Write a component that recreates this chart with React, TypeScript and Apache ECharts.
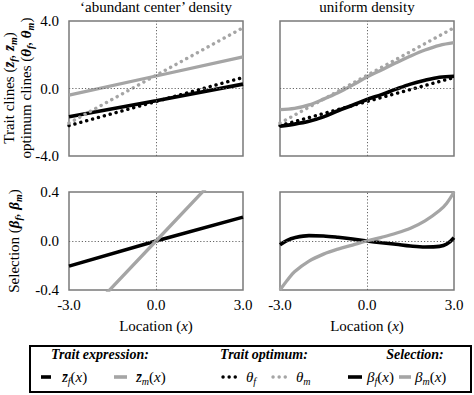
import React, { useEffect, useRef } from 'react';
import * as echarts from 'echarts';

// ---------- data ----------
const xLin = [-3, 0, 3];
const zfAbundant = [-1.67, -0.72, 0.26];
const zmAbundant = [-0.39, 0.74, 1.87];
const thetaF = [-2.2, -0.77, 0.65];
const thetaM = [-2.05, 0.78, 3.6];

const xCurve = [-3, -2.5, -2, -1.5, -1, -0.5, 0, 0.5, 1, 1.5, 2, 2.5, 3];
const zfUniform = [-2.23, -2.11, -1.94, -1.68, -1.32, -0.99, -0.65, -0.36, -0.04, 0.26, 0.49, 0.67, 0.73];
const zmUniform = [-1.25, -1.18, -0.97, -0.63, -0.25, 0.2, 0.68, 1.1, 1.52, 1.92, 2.28, 2.56, 2.72];

const betaFAbundant = [-0.205, 0, 0.195];
const betaMAbundant = [-0.75, 0, 0.75];

const xSel = [-3, -2.75, -2.5, -2, -1.5, -1, -0.5, 0, 0.5, 1, 1.5, 2, 2.5, 2.75, 3];
const betaFUniform = [-0.03, 0.006, 0.027, 0.044, 0.041, 0.03, 0.016, 0, -0.014, -0.027, -0.041, -0.049, -0.044, -0.025, 0.027];
const betaMUniform = [-0.4, -0.32, -0.251, -0.164, -0.107, -0.066, -0.033, 0, 0.03, 0.063, 0.104, 0.164, 0.249, 0.309, 0.4];

const xTicks = [-3, 0, 3];
const panelTitles = ['\u2018abundant center\u2019 density', 'uniform density'];

const FONT = 'Liberation Serif';
const BLACK = '#000000';
const GRAY = '#a5a5a5';

const pairs = (xs: number[], ys: number[]) => xs.map((x, i) => [x, ys[i]]);

const part = (style: string, weight: string, size: number, extra: any = {}) => ({
  fontFamily: FONT,
  fontStyle: style,
  fontWeight: weight,
  fontSize: size,
  fill: '#000',
  ...extra,
});

const richBase: any = {
  n: part('normal', 'normal', 15, { lineHeight: 18 }),
  i: part('italic', 'normal', 15, { lineHeight: 18 }),
  b: part('italic', 'bold', 15, { lineHeight: 18 }),
  h: part('italic', 'bold', 14, { lineHeight: 18 }),
  s: part('italic', 'bold', 10, { lineHeight: 10, verticalAlign: 'bottom' }),
  si: part('italic', 'normal', 10, { lineHeight: 10, verticalAlign: 'bottom' }),
};

export default function App() {
  const ref = useRef<HTMLDivElement>(null);
  useEffect(() => {
    if (!ref.current) return;
    const chart = echarts.init(ref.current, null, { renderer: 'svg' });

    const grids = [
      { left: 69, top: 21, width: 174, height: 135 },
      { left: 280, top: 21, width: 174, height: 135 },
      { left: 69, top: 192, width: 174, height: 98 },
      { left: 280, top: 192, width: 174, height: 98 },
    ].map((g) => ({ ...g, show: true, borderColor: '#7a7a7a', borderWidth: 1.5, backgroundColor: 'transparent' }));

    const fmt = (v: number) => (Math.abs(v) < 1e-9 ? 0 : v).toFixed(1);

    const xAxis = [0, 1, 2, 3].map((i) => ({
      gridIndex: i,
      type: 'value',
      min: xTicks[0],
      max: xTicks[2],
      interval: 3,
      axisLine: { show: false },
      axisTick: { show: false },
      splitLine: { show: false },
      axisLabel: { show: i >= 2, formatter: fmt, fontFamily: FONT, fontSize: 15, color: '#000', margin: 7 },
    }));

    const yAxis = [0, 1, 2, 3].map((i) => ({
      gridIndex: i,
      type: 'value',
      min: i < 2 ? -4 : -0.4,
      max: i < 2 ? 4 : 0.4,
      interval: i < 2 ? 4 : 0.4,
      axisLine: { show: false },
      axisTick: { show: false },
      splitLine: { show: false },
      axisLabel: { show: i % 2 === 0, formatter: fmt, fontFamily: FONT, fontSize: 15, color: '#000', margin: 10 },
    }));

    const zeroLines = (g: number) => ({
      type: 'line',
      xAxisIndex: g,
      yAxisIndex: g,
      data: [[0, 0]],
      showSymbol: false,
      lineStyle: { width: 0 },
      silent: true,
      z: 1,
      markLine: {
        silent: true,
        symbol: 'none',
        label: { show: false },
        lineStyle: { color: '#666', width: 1, type: [1.2, 2] },
        data: [{ xAxis: 0 }, { yAxis: 0 }],
      },
    });

    const line = (g: number, xs: number[], ys: number[], color: string, dotted: boolean, smooth: boolean | number) => ({
      type: 'line',
      xAxisIndex: g,
      yAxisIndex: g,
      data: pairs(xs, ys),
      showSymbol: false,
      symbol: 'none',
      smooth,
      clip: true,
      z: 3,
      lineStyle: dotted
        ? { color, width: 3.4, type: [0.1, 6], cap: 'round' }
        : { color, width: color === BLACK ? 3.6 : 3.3 },
    });

    const series: any[] = [
      zeroLines(0), zeroLines(1), zeroLines(2), zeroLines(3),
      line(0, xLin, zfAbundant, BLACK, false, false),
      line(0, xLin, zmAbundant, GRAY, false, false),
      line(0, xLin, thetaF, BLACK, true, false),
      line(0, xLin, thetaM, GRAY, true, false),
      line(1, xCurve, zfUniform, BLACK, false, 0.35),
      line(1, xCurve, zmUniform, GRAY, false, 0.35),
      line(1, xLin, thetaF, BLACK, true, false),
      line(1, xLin, thetaM, GRAY, true, false),
      line(2, xLin, betaFAbundant, BLACK, false, false),
      line(2, xLin, betaMAbundant, GRAY, false, false),
      line(3, xSel, betaFUniform, BLACK, false, 0.35),
      line(3, xSel, betaMUniform, GRAY, false, 0.35),
    ];

    const txt = (x: number, y: number, text: string, opts: any = {}) => ({
      type: 'text',
      x,
      y,
      rotation: opts.rotation || 0,
      style: {
        text,
        ...part('normal', 'normal', 15),
        align: opts.align || 'center',
        verticalAlign: 'middle',
        rich: richBase,
      },
    });

    const seg = (x1: number, x2: number, y: number, color: string, dotted: boolean) => ({
      type: 'line',
      shape: { x1, y1: y, x2, y2: y },
      style: dotted
        ? { stroke: color, lineWidth: 3.4, lineDash: [0.1, 6], lineCap: 'round' }
        : { stroke: color, lineWidth: 3.6 },
    });

    const legendY = 377;
    const graphic: any[] = [
      txt(156, 7, '{n|' + panelTitles[0] + '}'),
      txt(367, 7, '{n|' + panelTitles[1] + '}'),
      txt(156, 326, '{n|Location (}{i|x}{n|)}'),
      txt(367, 326, '{n|Location (}{i|x}{n|)}'),
      txt(9, 88, '{n|Trait clines (}{b|z\u0304}{s|f}{n|, }{b|z\u0304}{s|m}{n|)}', { rotation: Math.PI / 2 }),
      txt(26, 88, '{n|optimum clines (}{b|\u03b8}{s|f}{n|, }{b|\u03b8}{s|m}{n|)}', { rotation: Math.PI / 2 }),
      txt(14, 241, '{n|Selection (}{b|\u03b2}{s|f}{n|, }{b|\u03b2}{s|m}{n|)}', { rotation: Math.PI / 2 }),
      {
        type: 'rect',
        shape: { x: 30, y: 346, width: 441, height: 46 },
        style: { fill: 'none', stroke: '#000', lineWidth: 2 },
      },
      txt(100, 354, '{h|Trait expression:}'),
      txt(264, 354, '{h|Trait optimum:}'),
      txt(415, 354, '{h|Selection:}'),
      seg(41, 51, legendY, BLACK, false),
      txt(62, legendY, '{i|z\u0304}{si|f}{n|(}{i|x}{n|)}', { align: 'left' }),
      seg(114, 127, legendY, GRAY, false),
      txt(136, legendY, '{i|z\u0304}{si|m}{n|(}{i|x}{n|)}', { align: 'left' }),
      seg(223, 240, legendY, BLACK, true),
      txt(246, legendY, '{i|\u03b8}{si|f}', { align: 'left' }),
      seg(273, 290, legendY, GRAY, true),
      txt(296, legendY, '{i|\u03b8}{si|m}', { align: 'left' }),
      seg(348, 362, legendY, BLACK, false),
      txt(367, legendY, '{i|\u03b2}{si|f}{n|(}{i|x}{n|)}', { align: 'left' }),
      seg(399, 411, legendY, GRAY, false),
      txt(415, legendY, '{i|\u03b2}{si|m}{n|(}{i|x}{n|)}', { align: 'left' }),
    ];

    chart.setOption({
      animation: false,
      grid: grids,
      xAxis,
      yAxis,
      series,
      graphic,
    } as any);

    return () => chart.dispose();
  }, []);

  return (
    <div
      ref={ref}
      style={{ position: 'fixed', left: 0, top: 0, width: 474, height: 395, background: '#fff' }}
    />
  );
}
